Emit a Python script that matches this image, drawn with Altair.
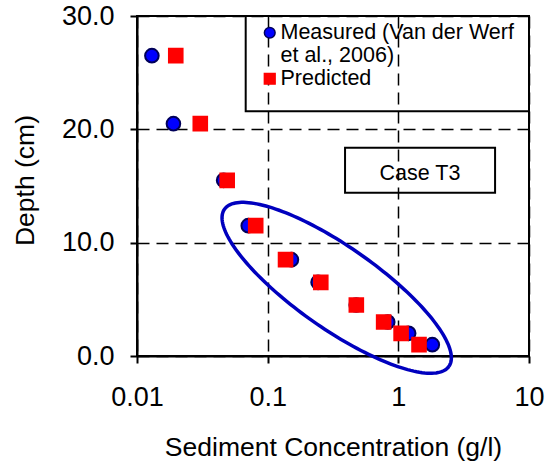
import altair as alt
import numpy as np
import pandas as pd

# ---- data ----
depth = [26.5, 20.5, 15.5, 11.5, 8.5, 6.5, 4.5, 3.0, 2.0, 1.0]
measured = [0.013, 0.019, 0.046, 0.071, 0.152, 0.243, 0.476, 0.83, 1.2, 1.82]
predicted = [0.0198, 0.0305, 0.049, 0.081, 0.137, 0.255, 0.477, 0.772, 1.05, 1.44]
series_names = ["Measured", "Predicted"]

x_ticks = [0.01, 0.1, 1, 10]
y_ticks = [0, 10, 20, 30]

FONT = "Liberation Sans"
W, H = 392, 340

rows = []
for d, m in zip(depth, measured):
    rows.append({"series": "Measured", "conc": m, "depth": d})
for d, p in zip(depth, predicted):
    rows.append({"series": "Predicted", "conc": p, "depth": d})
df = pd.DataFrame(rows)

xscale = alt.Scale(type="log", domain=[0.01, 10], nice=False)
yscale = alt.Scale(domain=[0, 30], nice=False, zero=False)

# ---- annotation: ellipse drawn around the lower points (pixel-space ellipse mapped to data) ----
cx, cy, a_, b_, th = 336.7 - 137, 287.8 - 16, 137, 41, np.radians(35)
t = np.linspace(0, 2 * np.pi, 181)
px = cx + a_ * np.cos(t) * np.cos(th) - b_ * np.sin(t) * np.sin(th)
py = cy + a_ * np.cos(t) * np.sin(th) + b_ * np.sin(t) * np.cos(th)
ell = pd.DataFrame({
    "i": np.arange(len(t)),
    "conc": 10 ** (-2 + px / (W / 3)),
    "depth": 30 - py / (H / 30),
})

# ---- annotation boxes (legend frame and "Case T3" box) ----
boxes = pd.DataFrame({
    "x1": [0.0679, 0.391],
    "x2": [10, 5.50],
    "y1": [21.6, 14.41],
    "y2": [30, 18.38],
})
label_df = pd.DataFrame({"conc": [1.465], "depth": [16.1], "txt": ["Case T3"]})

points = alt.Chart(df).mark_point(filled=True, opacity=1, size=185).encode(
    x=alt.X("conc:Q", scale=xscale,
            axis=alt.Axis(values=x_ticks, format="~g",
                          title="Sediment Concentration (g/l)")),
    y=alt.Y("depth:Q", scale=yscale,
            axis=alt.Axis(values=y_ticks, format=".1f", title="Depth (cm)",
                          titleY=164)),
    color=alt.Color("series:N",
                    scale=alt.Scale(domain=series_names, range=["#0000FF", "#FF0000"]),
                    legend=alt.Legend(
                        title=None, orient="none", legendX=122, legendY=6,
                        labelExpr="datum.label == 'Measured' ? ['Measured (Van der Werf', 'et al., 2006)'] : datum.label",
                        symbolSize=115)),
    shape=alt.Shape("series:N",
                    scale=alt.Scale(domain=series_names, range=["circle", "square"]),
                    legend=None),
    stroke=alt.Stroke("series:N",
                      scale=alt.Scale(domain=series_names, range=["#00005A", "#FF0000"]),
                      legend=None),
)

ellipse = alt.Chart(ell).mark_line(color="#0000BE", strokeWidth=3.5).encode(
    x=alt.X("conc:Q", scale=xscale),
    y=alt.Y("depth:Q", scale=yscale),
    order="i:Q",
)

rects = alt.Chart(boxes).mark_rect(fill=None, fillOpacity=0, stroke="black", strokeWidth=2).encode(
    x=alt.X("x1:Q", scale=xscale),
    x2="x2:Q",
    y=alt.Y("y1:Q", scale=yscale),
    y2="y2:Q",
)

case_text = alt.Chart(label_df).mark_text(font=FONT, fontSize=21.5, color="black",
                                          baseline="middle", align="center").encode(
    x=alt.X("conc:Q", scale=xscale),
    y=alt.Y("depth:Q", scale=yscale),
    text="txt:N",
)

chart = alt.layer(rects, case_text, ellipse, points).properties(
    width=W, height=H,
    autosize=alt.AutoSizeParams(type="none"),
    padding={"left": 137, "top": 16, "right": 16, "bottom": 107},
).configure(font=FONT, background="white").configure_view(
    stroke="black", strokeWidth=2
).configure_axis(
    domainColor="black", domainWidth=2,
    tickColor="black", tickWidth=2, tickSize=7,
    grid=True, gridColor="black", gridDash=[12, 7], gridWidth=1.5, gridOpacity=1,
    labelFont=FONT, labelFontSize=27, labelColor="black", labelFlush=False,
    labelOverlap=False,
    titleFont=FONT, titleFontSize=26.5, titleFontWeight="normal", titleColor="black",
).configure_axisX(
    labelPadding=21, titlePadding=24,
).configure_axisY(
    labelPadding=16, titlePadding=22,
).configure_legend(
    labelFont=FONT, labelFontSize=21.5, labelColor="black", labelOffset=0,
    padding=0, rowPadding=0, labelLimit=400,
)

chart.save("out.html", embed_options={"renderer": "svg", "actions": False})
